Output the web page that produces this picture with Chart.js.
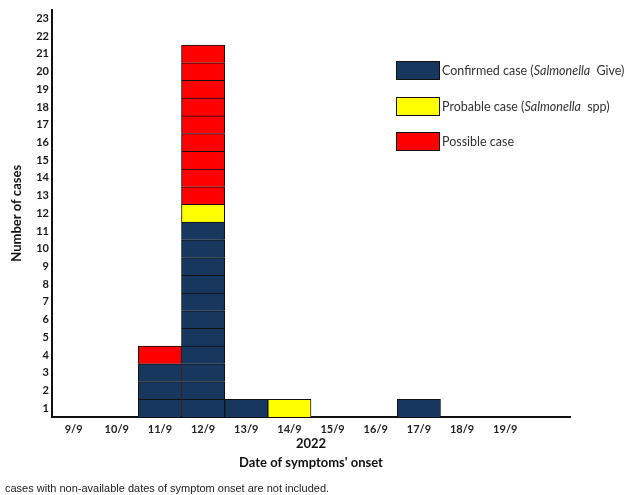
<!DOCTYPE html>
<html>
<head>
<meta charset="utf-8">
<script src="https://cdn.jsdelivr.net/npm/chart.js@4"></script>
<style>
  body { margin: 0; background: #fff; }
  #wrap { position: relative; width: 629px; height: 495px; }
  #legend { position: absolute; left: 396px; top: 61px; width: 233px; font-family: Lato, sans-serif; font-size: 12.5px; color: #333; }
  .item { position: absolute; left: 0; white-space: nowrap; height: 19px; line-height: 19px; }
  .box { position: absolute; left: 0; top: 0; width: 42px; height: 17px; border: 1px solid #111; }
  .item span.t { position: absolute; left: 46px; top: 0; }
  .item i { margin-right: 3px; }
  #note { position: absolute; left: 5px; top: 482px; font-family: "Liberation Sans", Arial, sans-serif; font-size: 11px; color: #222; white-space: nowrap; }
</style>
</head>
<body>
<div id="wrap">
  <canvas id="epi" width="629" height="495"></canvas>
  <div id="legend">
    <div class="item" style="top:0px"><div class="box" style="background:#17375e"></div><span class="t">Confirmed case (<i>Salmonella</i> Give)</span></div>
    <div class="item" style="top:36px"><div class="box" style="background:#ffff00"></div><span class="t">Probable case (<i>Salmonella</i> spp)</span></div>
    <div class="item" style="top:71px"><div class="box" style="background:#ff0000"></div><span class="t">Possible case</span></div>
  </div>
  <div id="note">cases with non-available dates of symptom onset are not included.</div>
</div>
<script>
// onset dates, last slot is empty
var dates = ["9/9", "10/9", "11/9", "12/9", "13/9", "14/9", "15/9", "16/9", "17/9", "18/9", "19/9", ""];
var confirmed = [0, 0, 3, 11, 1, 0, 0, 0, 1, 0, 0, 0];
var probable  = [0, 0, 0, 1, 0, 1, 0, 0, 0, 0, 0, 0];
var possible  = [0, 0, 1, 9, 0, 0, 0, 0, 0, 0, 0, 0];
var yMax = 23;

var types = [
  { counts: confirmed, color: "#17375e" },
  { counts: probable, color: "#ffff00" },
  { counts: possible, color: "#ff0000" }
];

// one dataset per case level so every case is its own box
var datasets = [];
types.forEach(function (t) {
  var top = Math.max.apply(null, t.counts);
  for (var k = 1; k <= top; k++) {
    datasets.push({
      data: t.counts.map(function (c) { return c >= k ? 1 : null; }),
      backgroundColor: t.color,
      borderColor: "#111",
      borderWidth: 1,
      barPercentage: 1,
      categoryPercentage: 1,
      stack: "cases"
    });
  }
});

var boldFont = { family: "Lato, sans-serif", weight: "bold", size: 11 };

new Chart(document.getElementById("epi"), {
  type: "bar",
  data: { labels: dates, datasets: datasets },
  options: {
    responsive: false,
    animation: false,
    layout: { padding: { top: 8, right: 59, left: 0, bottom: 0 } },
    plugins: { legend: { display: false }, tooltip: { enabled: false } },
    scales: {
      x: {
        stacked: true,
        grid: { display: false, drawTicks: false },
        border: { display: true, color: "#111", width: 2 },
        ticks: { color: "#222", font: boldFont, padding: 6, maxRotation: 0, autoSkip: false },
        title: {
          display: true,
          text: ["2022", "Date of symptoms' onset"],
          color: "#111",
          font: { family: "Lato, sans-serif", weight: "bold", size: 13, lineHeight: 19 / 13 },
          padding: { top: 0, bottom: 23 }
        },
        afterFit: function (s) { s.height = 78; }
      },
      y: {
        stacked: true,
        min: 0,
        max: yMax,
        grid: { display: false, drawTicks: false },
        border: { display: true, color: "#111", width: 2 },
        afterBuildTicks: function (s) {
          var t = [];
          for (var k = 1; k <= yMax; k++) t.push({ value: k - 0.5 });
          s.ticks = t;
        },
        ticks: {
          color: "#1a1a1a",
          font: boldFont,
          padding: 3,
          callback: function (v) { return v + 0.5; }
        },
        title: {
          display: true,
          text: "Number of cases",
          color: "#111",
          font: { family: "Lato, sans-serif", weight: "bold", size: 13, lineHeight: 18 / 13 },
          padding: { top: 8, bottom: 0 }
        },
        afterFit: function (s) { s.width = 52; }
      }
    }
  }
});
</script>
</body>
</html>
